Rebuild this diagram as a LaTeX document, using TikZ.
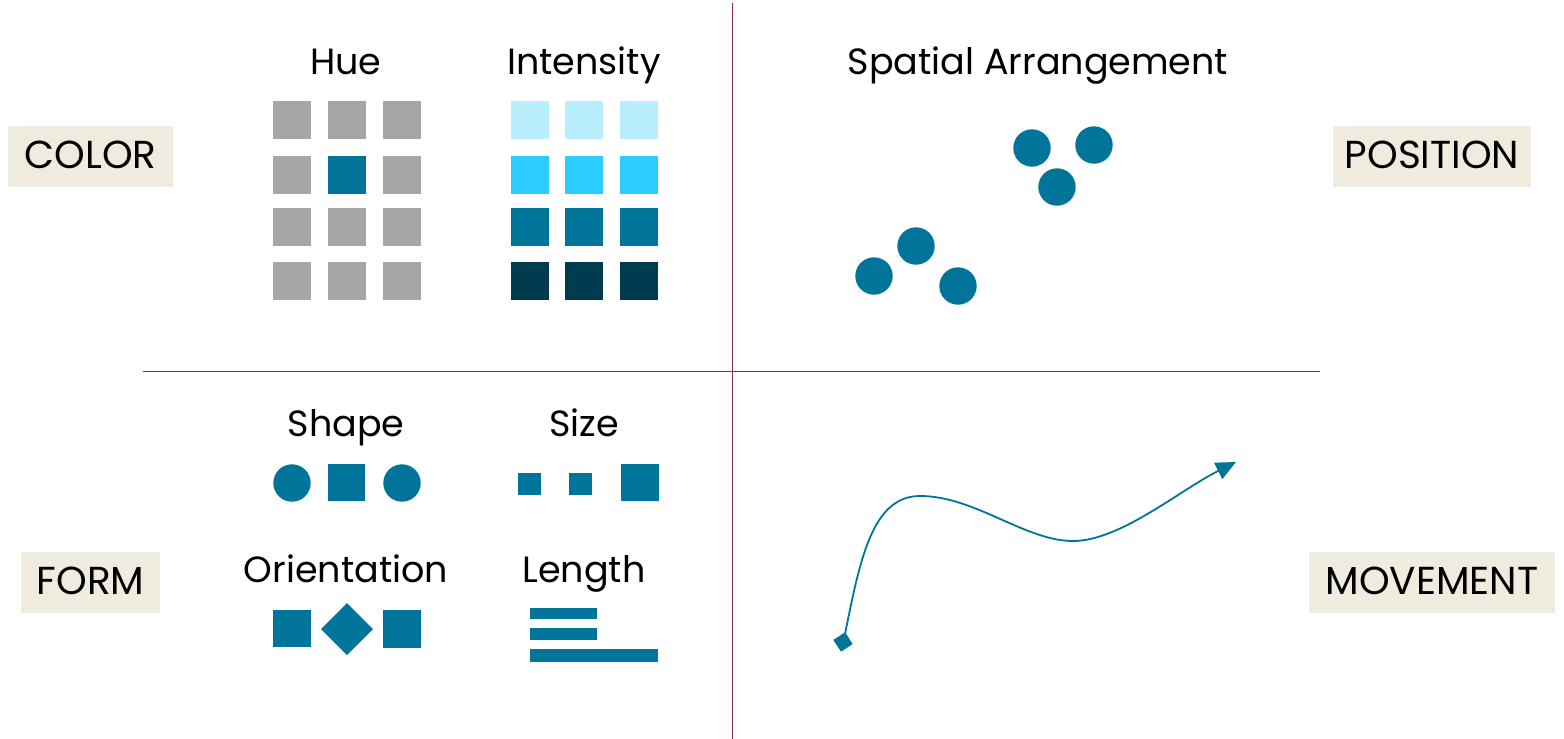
\documentclass[tikz,border=0pt]{standalone}
\usepackage{fontspec}
\setmainfont{Poppins}
\usetikzlibrary{arrows.meta}
\definecolor{teal}{HTML}{007599}
\definecolor{grayc}{HTML}{A6A6A6}
\definecolor{light}{HTML}{B9EEFD}
\definecolor{cyanc}{HTML}{2BCCFF}
\definecolor{dark}{HTML}{003B4F}
\definecolor{beige}{HTML}{F0EBDF}
\definecolor{sep}{HTML}{8E2B42}
\tikzset{
  lab/.style={anchor=base, inner sep=0pt, font=\fontsize{36.5}{40}\selectfont},
  cattext/.style={anchor=base, inner sep=0pt, font=\fontsize{39}{44}\selectfont},
  sepline/.style={draw=sep, line width=1pt},
}
\begin{document}
\begin{tikzpicture}[x=1pt,y=-1pt]
\useasboundingbox (0,0) rectangle (1564,739);
% separators
\draw[sepline] (732,3) -- (732,739);
\draw[sepline] (143,371) -- (1320,371);
% category boxes
\fill[beige] (8,126) rectangle (173,187);
\node[cattext] (color) at (90.5,168) {COLOR};
\fill[beige] (1333,126) rectangle (1531,187);
\node[cattext] (position) at (1432,168) {POSITION};
\fill[beige] (21,552) rectangle (160,613);
\node[cattext] (form) at (90.5,594) {FORM};
\fill[beige] (1309,552) rectangle (1555,613);
\node[cattext] (movement) at (1432,594) {MOVEMENT};
% titles
\node[lab] (hue) at (346,74) {Hue};
\node[lab] (intensity) at (584,74) {Intensity};
\node[lab] (spatial) at (1038,74) {Spatial Arrangement};
\node[lab] (shape) at (346,436) {Shape};
\node[lab] (size) at (584,436) {Size};
\node[lab] (orient) at (346,582) {Orientation};
\node[lab] (length) at (584,582) {Length};
% hue grid
\foreach \x in {273,328,383}{
  \foreach \y in {101,156,208,262}{
    \fill[grayc] (\x,\y) rectangle ++(38,38);
  }
}
\fill[teal] (328,156) rectangle ++(38,38);
% intensity grid
\foreach \x in {511,565,620}{
  \fill[light] (\x,101) rectangle ++(38,38);
  \fill[cyanc] (\x,156) rectangle ++(38,38);
  \fill[teal] (\x,208) rectangle ++(38,38);
  \fill[dark] (\x,262) rectangle ++(38,38);
}
% spatial arrangement
\foreach \p in {(1032,148),(1094,145),(1057,187),(916,246),(874,276),(958,286)}{
  \fill[teal] \p circle (18.7);
}
% shape
\fill[teal] (292,483) circle (18.7);
\fill[teal] (328,464) rectangle (365,501);
\fill[teal] (402,483) circle (18.7);
% size
\fill[teal] (518,473) rectangle (541,495);
\fill[teal] (569,473) rectangle (592,495);
\fill[teal] (621,464) rectangle (659,501);
% orientation
\fill[teal] (273,610) rectangle (311,647);
\fill[teal] (347,603) -- (373,629) -- (347,655) -- (321,629) -- cycle;
\fill[teal] (383,610) rectangle (421,648);
% length
\fill[teal] (530,608) rectangle (597,619);
\fill[teal] (530,628) rectangle (597,640);
\fill[teal] (530,649) rectangle (658,662);
% movement
\node[fill=teal, minimum size=14pt, inner sep=0pt, rotate=33] (mstart) at (843,642) {};
\coordinate (mend) at (1236,462);
\draw[teal, line width=1.8pt, -{Triangle[length=20pt,width=18pt]}]
  (mstart.center) ++(2,-8) .. controls (860,560) and (872,496) .. (920,496)
  .. controls (975,496) and (1025,541) .. (1073,541)
  .. controls (1120,541) and (1180,490) .. (mend);
\end{tikzpicture}
\end{document}
